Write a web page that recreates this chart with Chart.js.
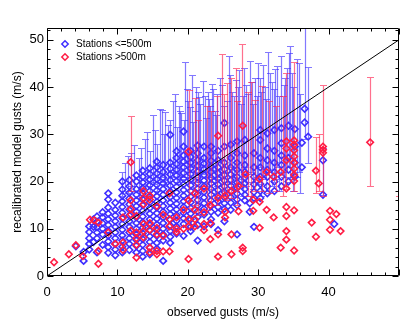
<!DOCTYPE html>
<html>
<head>
<meta charset="utf-8">
<script src="https://cdn.jsdelivr.net/npm/chart.js@4.4.1/dist/chart.umd.min.js"></script>
<style>
  html, body { margin: 0; padding: 0; background: #fff; }
  canvas { display: block; }
</style>
</head>
<body>
<canvas id="gusts" width="412" height="332"></canvas>
<script>
// observed gust (x) per column, model gusts (y) at that observation
const blueColX = [4.1, 5.2, 6.0, 6.6, 7.1, 7.9, 8.7, 9.7, 10.7, 11.7, 12.7, 13.6, 14.6, 15.6, 16.5, 17.5,
  18.4, 19.4, 20.4, 21.4, 22.3, 23.3, 24.3, 25.2, 26.1, 27.0, 28.1, 28.8, 29.4, 30.3, 31.3, 32.3,
  33.3, 34.3, 35.2, 36.2, 36.6, 37.1, 39.2, 40.8];
const blueColY = [
  [6.3], [3.2, 5.1], [5.6, 6.8, 8.0, 9.3, 10.5], [7.2, 10.4, 12.0], [5.0, 8.0, 9.2, 10.3, 11.5, 12.6],
  [6.6, 8.8, 10.0, 11.2, 12.4, 13.5],
  [4.9, 6.1, 7.3, 8.5, 9.6, 10.8, 12.0, 13.2, 14.5, 16.2, 17.5],
  [4.4, 5.6, 6.8, 8.0, 9.2, 10.4, 11.6, 12.8, 14.0, 15.5],
  [5.0, 6.2, 7.5, 8.6, 9.8, 11.0, 12.2, 13.4, 14.6, 15.8, 17.0, 18.3, 20.0],
  [5.5, 6.8, 8.0, 9.2, 10.4, 11.6, 12.8, 14.0, 15.2, 16.4, 17.6, 19.0, 20.3],
  [5.0, 6.4, 7.6, 8.8, 10.0, 11.2, 12.4, 13.6, 14.8, 16.0, 17.2, 18.4, 20.0, 21.3],
  [4.1, 5.3, 6.6, 7.8, 9.0, 10.2, 11.4, 12.6, 13.8, 15.0, 16.2, 17.4, 18.6, 19.8, 21.0, 22.3],
  [4.6, 6.0, 7.2, 8.4, 9.6, 10.8, 12.0, 13.2, 14.4, 15.6, 16.8, 18.0, 19.2, 20.4, 21.6, 22.8],
  [5.8, 7.0, 8.5, 9.7, 10.9, 12.1, 13.3, 14.5, 15.7, 16.9, 18.1, 19.3, 20.5, 21.7, 23.0, 24.2],
  [3.2, 7.5, 8.8, 10.0, 11.2, 12.4, 13.6, 14.8, 16.0, 17.2, 18.4, 19.6, 20.8, 22.0, 23.5],
  [7.0, 8.3, 9.5, 10.7, 11.9, 13.1, 14.3, 15.5, 16.7, 17.9, 19.1, 20.3, 21.5, 22.7, 24.0, 29.9],
  [9.0, 10.5, 11.7, 12.9, 14.1, 15.3, 16.5, 17.7, 18.9, 20.1, 21.3, 22.5, 23.7, 25.0, 26.4],
  [8.5, 11.0, 12.2, 13.4, 14.6, 15.8, 17.0, 18.2, 19.4, 20.6, 21.8, 23.0, 24.2, 25.5, 27.4, 30.6],
  [9.5, 10.4, 12.0, 13.2, 14.4, 15.6, 16.8, 18.0, 19.2, 20.4, 21.6, 22.8, 24.0, 25.2, 26.5],
  [7.5, 10.8, 12.5, 13.7, 14.9, 16.1, 17.3, 18.5, 19.7, 20.9, 22.1, 23.3, 24.5, 26.0, 27.6],
  [10.5, 13.0, 14.2, 15.4, 16.6, 17.8, 19.0, 20.2, 21.4, 22.6, 23.8, 25.0, 27.4],
  [11.0, 12.0, 13.6, 14.8, 16.0, 17.2, 18.4, 19.6, 20.8, 22.0, 23.2, 24.4, 26.0, 27.4],
  [9.7, 13.4, 14.6, 15.8, 17.0, 18.2, 19.4, 20.6, 21.8, 23.0, 24.5, 26.5],
  [11.6, 14.2, 15.4, 16.6, 17.8, 19.0, 20.2, 21.4, 22.6, 24.0, 27.4, 32.4],
  [14.0, 15.5, 16.7, 17.9, 19.1, 20.3, 21.5, 23.0, 25.0, 27.8],
  [8.8, 15.0, 16.2, 17.4, 18.6, 19.8, 21.0, 22.5, 24.0, 26.0, 28.5],
  [16.0, 17.2, 18.4, 19.6, 20.8, 22.0, 23.5, 25.5, 28.8],
  [13.6, 15.4],
  [10.4, 16.5, 17.8, 19.4, 21.0, 23.0, 26.0],
  [16.5, 18.0, 19.5, 21.0, 23.0, 25.0, 28.8, 30.9],
  [17.5, 19.0, 21.0, 22.5, 24.5, 27.0, 30.2],
  [18.0, 20.0, 22.0, 24.0, 26.5, 30.9],
  [19.0, 21.0, 23.5, 25.5, 28.1, 31.3],
  [20.0, 22.5, 25.0, 31.8],
  [21.0, 24.0, 27.4, 31.1],
  [23.0, 28.2], [32.5, 35.4], [29.5], [17.2, 24.5], [11.0]
];

const redColX = [1.0, 3.1, 4.1, 5.1, 6.1, 6.7, 7.3, 8.7, 9.7, 10.8, 11.9, 12.7, 13.7, 14.6, 15.6, 16.5,
  17.4, 18.4, 19.4, 20.1, 21.0, 22.3, 23.2, 24.3, 25.3, 26.2, 27.2, 27.8, 28.2, 29.3, 30.2, 31.2,
  32.2, 33.2, 34.0, 35.1, 37.6, 38.2, 38.6, 39.2, 40.2, 41.1, 41.7, 45.9];
const redColY = [
  [2.9], [4.6], [6.5], [4.2], [11.9], [11.8], [11.3, 5.3, 2.6], [9.2], [6.8], [12.4, 7.1, 5.5],
  [24.1, 16.0, 14.2, 13.0, 9.6],
  [12.7, 9.2, 8.0, 6.6, 3.9],
  [18.0, 16.5, 15.2, 11.0, 9.5, 8.2],
  [17.0, 16.2, 11.2, 9.8, 6.0, 5.0],
  [14.8, 10.2, 8.8, 5.3, 4.6],
  [13.0, 8.5, 5.2],
  [17.5, 12.0, 10.5, 5.2],
  [12.4, 10.0, 9.3],
  [14.0, 10.0],
  [26.3, 16.0, 12.0, 10.5, 3.6],
  [17.5, 14.0, 12.0, 10.5],
  [18.5, 13.5, 11.0, 9.7],
  [15.0, 11.2, 7.8],
  [29.7, 16.5, 8.8, 4.1],
  [17.0, 13.6, 12.4],
  [18.0, 8.8, 4.6],
  [19.0, 13.7],
  [31.8, 6.0, 5.3],
  [21.5],
  [16.1, 13.8],
  [20.5, 15.7, 10.2],
  [22.0, 14.0],
  [21.0, 12.4],
  [22.0, 6.0],
  [28.5, 27.0, 24.5, 18.5, 14.6, 12.7, 9.5, 7.7],
  [28.7, 27.8, 26.6, 25.3, 24.0, 22.7, 21.4, 20.1, 13.9, 5.4],
  [11.3], [22.3, 8.3], [19.6], [27.4, 26.7, 26.1], [13.8, 11.9, 9.8], [13.1], [9.5], [28.3]
];

// error bar ranges: observation, lowest and highest model gust
const blueBarX = [10.7, 11.1, 11.5, 12.0, 12.4, 13.0, 13.4, 13.9, 14.2, 14.6, 15.1, 15.4, 15.6, 16.0,
  16.3, 16.6, 16.8, 17.2, 17.5, 17.9, 18.2, 18.4, 18.7, 18.9, 19.1, 19.4, 19.6, 19.9, 20.0, 20.3,
  20.6, 20.8, 21.0, 21.2, 21.4, 21.6, 21.8, 22.1, 22.4, 22.6, 22.8, 23.0, 23.2, 23.4, 23.6, 23.8,
  24.0, 24.2, 24.6, 24.9, 25.2, 25.5, 25.9, 26.0, 26.3, 26.6, 26.8, 27.1, 27.3, 27.6, 27.8, 28.0,
  28.3, 28.6, 28.8, 29.1, 29.3, 29.6, 29.9, 30.0, 30.2, 30.4, 30.7, 30.9, 31.1, 31.4, 31.7, 31.9,
  32.2, 32.4, 32.7, 32.9, 33.3, 33.6, 33.8, 34.1, 34.4, 34.5, 34.8, 35.0, 35.5, 35.8, 36.0, 36.6,
  37.1, 39.2];
const blueBarLo = [17.0, 18.0, 17.5, 19.0, 18.0, 16.5, 18.0, 18.5, 19.0, 17.0, 19.5, 20.0, 18.0, 20.0,
  21.0, 19.5, 19.0, 20.0, 18.0, 21.0, 22.0, 20.0, 21.0, 19.5, 20.5, 21.0, 24.0, 21.0, 22.0, 20.0,
  23.0, 18.5, 21.0, 22.0, 23.0, 20.0, 20.0, 21.5, 22.0, 19.0, 21.0, 18.5, 21.0, 20.0, 22.5, 17.5,
  20.5, 19.0, 21.0, 22.0, 18.0, 20.0, 22.0, 23.0, 19.5, 21.0, 18.0, 22.5, 20.5, 19.5, 17.0, 23.0,
  19.0, 20.0, 21.5, 22.0, 18.5, 20.0, 21.0, 19.5, 23.0, 17.0, 21.0, 20.5, 18.0, 22.0, 22.5, 19.0,
  20.0, 20.5, 23.0, 18.0, 22.0, 21.0, 19.5, 22.0, 23.0, 20.0, 21.0, 18.0, 21.0, 22.0, 17.5, 29.0,
  24.0, 17.2];
const blueBarHi = [22.1, 23.9, 25.5, 26.0, 27.7, 25.0, 27.0, 29.1, 30.5, 26.5, 34.0, 31.0, 28.0, 35.4,
  35.2, 30.0, 34.7, 32.0, 33.0, 37.1, 38.5, 31.5, 36.0, 35.0, 34.5, 33.0, 45.3, 39.5, 37.0, 35.8,
  42.5, 32.5, 35.0, 40.0, 39.0, 37.8, 36.5, 41.2, 38.0, 33.5, 39.0, 37.5, 36.0, 40.7, 39.5, 35.0,
  34.0, 38.5, 42.0, 40.5, 36.0, 37.0, 46.5, 42.5, 39.0, 38.0, 41.5, 40.0, 43.6, 36.5, 38.0, 44.0,
  40.5, 38.5, 45.6, 41.0, 36.5, 42.0, 38.0, 45.0, 42.0, 39.0, 44.7, 40.0, 37.5, 47.4, 43.0, 41.0,
  39.5, 43.8, 44.5, 38.0, 46.6, 40.5, 42.0, 44.0, 47.3, 48.7, 43.0, 40.0, 46.0, 45.0, 38.5, 56.0,
  44.3, 27.0];

const redBarX = [11.9, 20.1, 21.0, 21.5, 22.7, 23.3, 24.1, 24.8, 25.1, 25.6, 26.2, 26.8, 27.0, 27.7,
  28.5, 29.0, 29.5, 30.5, 31.5, 32.5, 33.5, 34.0, 35.1, 38.2, 38.6, 39.2, 45.9, 49.95];
const redBarLo = [18.0, 14.5, 15.0, 13.0, 14.0, 15.0, 15.0, 17.0, 17.0, 16.0, 16.5, 18.0, 15.0, 19.0,
  17.0, 17.0, 18.0, 18.0, 17.5, 18.0, 17.0, 18.5, 18.0, 17.5, 18.0, 17.0, 19.1, 17.0];
const redBarHi = [33.8, 39.4, 37.6, 33.0, 36.0, 35.0, 38.0, 47.0, 38.5, 40.8, 42.0, 44.0, 37.0, 49.1,
  39.0, 41.0, 37.3, 40.3, 37.0, 36.0, 38.0, 42.9, 45.2, 29.4, 30.0, 40.5, 42.2, 38.0];

const diagX = [0, 50];
const diagY = [0, 50];
const xTicks = [0, 10, 20, 30, 40];
const yTicks = [0, 10, 20, 30, 40, 50];

const BLUE = 'rgb(62, 46, 255)';
const BLUE_BAR = 'rgba(66, 50, 255, 0.66)';
const RED = 'rgb(255, 28, 68)';
const RED_BAR = 'rgba(255, 36, 80, 0.65)';

const bluePts = blueColX.flatMap((x, i) => blueColY[i].map(y => ({ x, y })));
const redPts = redColX.flatMap((x, i) => redColY[i].map(y => ({ x, y })));
const diagPts = diagX.map((x, i) => ({ x, y: diagY[i] }));

function drawBars(chart, xs, los, his, colour) {
  const { ctx, chartArea: a, scales: { x, y } } = chart;
  ctx.save();
  ctx.beginPath();
  ctx.rect(a.left, a.top, a.right - a.left, a.bottom - a.top);
  ctx.clip();
  ctx.strokeStyle = colour;
  ctx.lineWidth = 1.2;
  xs.forEach((v, i) => {
    const px = Math.round(x.getPixelForValue(v)) + 0.5;
    const lo = Math.round(y.getPixelForValue(los[i])) + 0.5;
    const hi = Math.round(y.getPixelForValue(his[i])) + 0.5;
    ctx.beginPath();
    ctx.moveTo(px, lo); ctx.lineTo(px, hi);
    ctx.moveTo(px - 3.5, lo); ctx.lineTo(px + 3.5, lo);
    ctx.moveTo(px - 3.5, hi); ctx.lineTo(px + 3.5, hi);
    ctx.stroke();
  });
  ctx.restore();
}

const errorBars = {
  id: 'errorBars',
  beforeDatasetDraw(chart, args) {
    if (args.index === 2) drawBars(chart, blueBarX, blueBarLo, blueBarHi, BLUE_BAR);
    if (args.index === 1) drawBars(chart, redBarX, redBarLo, redBarHi, RED_BAR);
  }
};

// box with inward ticks on every side, plus the station legend
const frame = {
  id: 'frame',
  afterDraw(chart) {
    const { ctx, chartArea: a, scales: { x, y } } = chart;
    const L = a.left + 0.5, R = a.right - 0.5, T = a.top + 0.5, B = a.bottom - 0.5;
    ctx.save();
    ctx.strokeStyle = '#000';
    ctx.lineWidth = 1;
    ctx.beginPath();
    ctx.rect(L, T, R - L, B - T);
    for (let v = 0; v <= 50; v += 2) {
      const px = Math.round(x.getPixelForValue(v)) + 0.5;
      const len = v % 10 === 0 ? 6 : 3;
      ctx.moveTo(px, B); ctx.lineTo(px, B - len);
      ctx.moveTo(px, T); ctx.lineTo(px, T + len);
    }
    for (let v = 0; v <= 52; v += 2) {
      const py = Math.round(y.getPixelForValue(v)) + 0.5;
      const len = v % 10 === 0 ? 6 : 3;
      ctx.moveTo(L, py); ctx.lineTo(L + len, py);
      ctx.moveTo(R, py); ctx.lineTo(R - len, py);
    }
    ctx.stroke();

    const items = [[BLUE, 'Stations <=500m'], [RED, 'Stations >500m']];
    ctx.font = '10px "Liberation Sans", Arial, sans-serif';
    ctx.textBaseline = 'middle';
    ctx.lineWidth = 1.5;
    items.forEach(([c, t], i) => {
      const cx = a.left + 18, cy = a.top + 16 + i * 13;
      ctx.strokeStyle = c;
      ctx.beginPath();
      ctx.moveTo(cx - 3.2, cy); ctx.lineTo(cx, cy - 3.2);
      ctx.lineTo(cx + 3.2, cy); ctx.lineTo(cx, cy + 3.2);
      ctx.closePath();
      ctx.stroke();
      ctx.fillStyle = '#000';
      ctx.fillText(t, a.left + 29, cy + 0.5);
    });
    ctx.restore();
  }
};

const markers = { pointStyle: 'rectRot', pointRadius: 3.3, pointBorderWidth: 1.6,
  pointBackgroundColor: 'rgba(0,0,0,0)' };

new Chart(document.getElementById('gusts'), {
  type: 'scatter',
  data: {
    datasets: [
      { label: 'y = x', data: diagPts, showLine: true, borderColor: '#000', borderWidth: 1,
        pointRadius: 0 },
      { label: 'Stations >500m', data: redPts, ...markers, pointBorderColor: RED },
      { label: 'Stations <=500m', data: bluePts, ...markers, pointBorderColor: BLUE }
    ]
  },
  options: {
    responsive: false,
    animation: false,
    layout: { padding: { left: 6, right: 13, top: 28, bottom: 8 } },
    plugins: { legend: { display: false }, tooltip: { enabled: false } },
    scales: {
      x: {
        type: 'linear', min: 0, max: 50,
        afterBuildTicks: s => { s.ticks = xTicks.map(v => ({ value: v })); },
        afterFit: s => { s.height = 48; },
        grid: { display: false, drawTicks: false },
        border: { display: false },
        ticks: { color: '#000', padding: 9, font: { family: '"Liberation Sans", Arial', size: 13 } },
        title: { display: true, text: 'observed gusts (m/s)', color: '#000',
          font: { family: '"Liberation Sans", Arial', size: 12 } }
      },
      y: {
        type: 'linear', min: 0, max: 52.5,
        afterBuildTicks: s => { s.ticks = yTicks.map(v => ({ value: v })); },
        afterFit: s => { s.width = 41; },
        grid: { display: false, drawTicks: false },
        border: { display: false },
        ticks: { color: '#000', padding: 3, font: { family: '"Liberation Sans", Arial', size: 13 } },
        title: { display: true, text: 'recalibrated model gusts (m/s)', color: '#000',
          font: { family: '"Liberation Sans", Arial', size: 12 } }
      }
    }
  },
  plugins: [errorBars, frame]
});
</script>
</body>
</html>
